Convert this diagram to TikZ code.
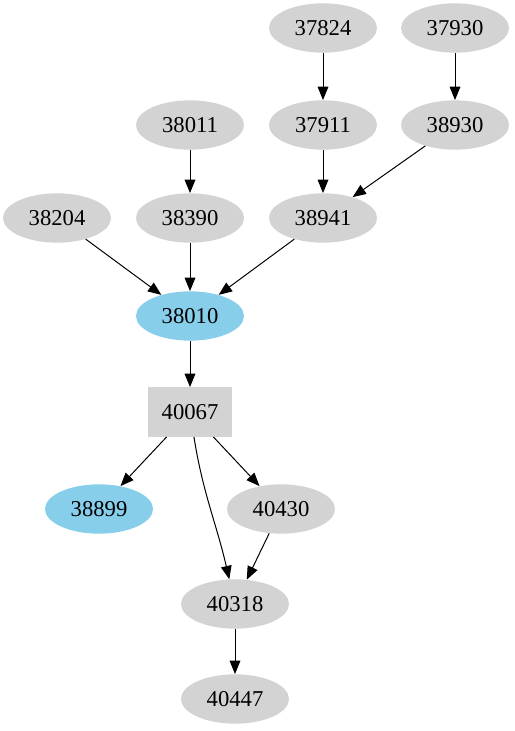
\documentclass[tikz,border=0pt]{standalone}
\usepackage{fontspec}
\setmainfont{Liberation Serif}
\usetikzlibrary{arrows.meta,shapes.geometric}
\definecolor{nodeGray}{HTML}{D3D3D3}
\definecolor{nodeSky}{HTML}{87CEEB}
\tikzset{
  grayNode/.style={
    ellipse,
    fill=nodeGray,
    minimum width=81pt,
    minimum height=37pt,
    inner sep=0pt,
    font=\fontsize{17}{20}\selectfont
  },
  skyNode/.style={grayNode, fill=nodeSky},
  boxNode/.style={
    rectangle,
    fill=nodeGray,
    minimum width=63pt,
    minimum height=37pt,
    inner sep=0pt,
    font=\fontsize{17}{20}\selectfont
  },
  depArrow/.style={-{Triangle[length=10pt,width=8pt]}, line width=0.75pt, black}
}

\begin{document}
\begin{tikzpicture}[x=0.75pt,y=0.75pt]
  \useasboundingbox (0,0) rectangle (514,731);

  % top rows
  \node[grayNode] (n37824) at (323,703) {37824};
  \node[grayNode] (n37930) at (455,703) {37930};
  \node[grayNode] (n38011) at (190,606) {38011};
  \node[grayNode] (n37911) at (323,606) {37911};
  \node[grayNode] (n38930) at (455,606) {38930};
  \node[grayNode] (n38204) at (57,513) {38204};
  \node[grayNode] (n38390) at (190,513) {38390};
  \node[grayNode] (n38941) at (323,513) {38941};

  % middle
  \node[skyNode] (n38010) at (190,415) {38010};
  \node[boxNode] (n40067) at (190,319) {40067};

  % bottom
  \node[skyNode] (n38899) at (99,222) {38899};
  \node[grayNode] (n40430) at (281,222) {40430};
  \node[grayNode] (n40318) at (235,127) {40318};
  \node[grayNode] (n40447) at (235,32) {40447};

  \draw[depArrow] (n37824) -- (n37911);
  \draw[depArrow] (n37930) -- (n38930);
  \draw[depArrow] (n38011) -- (n38390);
  \draw[depArrow] (n37911) -- (n38941);
  \draw[depArrow] (n38930) -- (n38941);
  \draw[depArrow] (n38204) -- (n38010);
  \draw[depArrow] (n38390) -- (n38010);
  \draw[depArrow] (n38941) -- (n38010);
  \draw[depArrow] (n38010) -- (n40067);
  \draw[depArrow] (n40067) -- (n38899);
  \draw[depArrow] (n40067) -- (n40430);
  \draw[depArrow] (n40067) to[out=-81, in=103] (n40318);
  \draw[depArrow] (n40430) -- (n40318);
  \draw[depArrow] (n40318) -- (n40447);
\end{tikzpicture}
\end{document}
